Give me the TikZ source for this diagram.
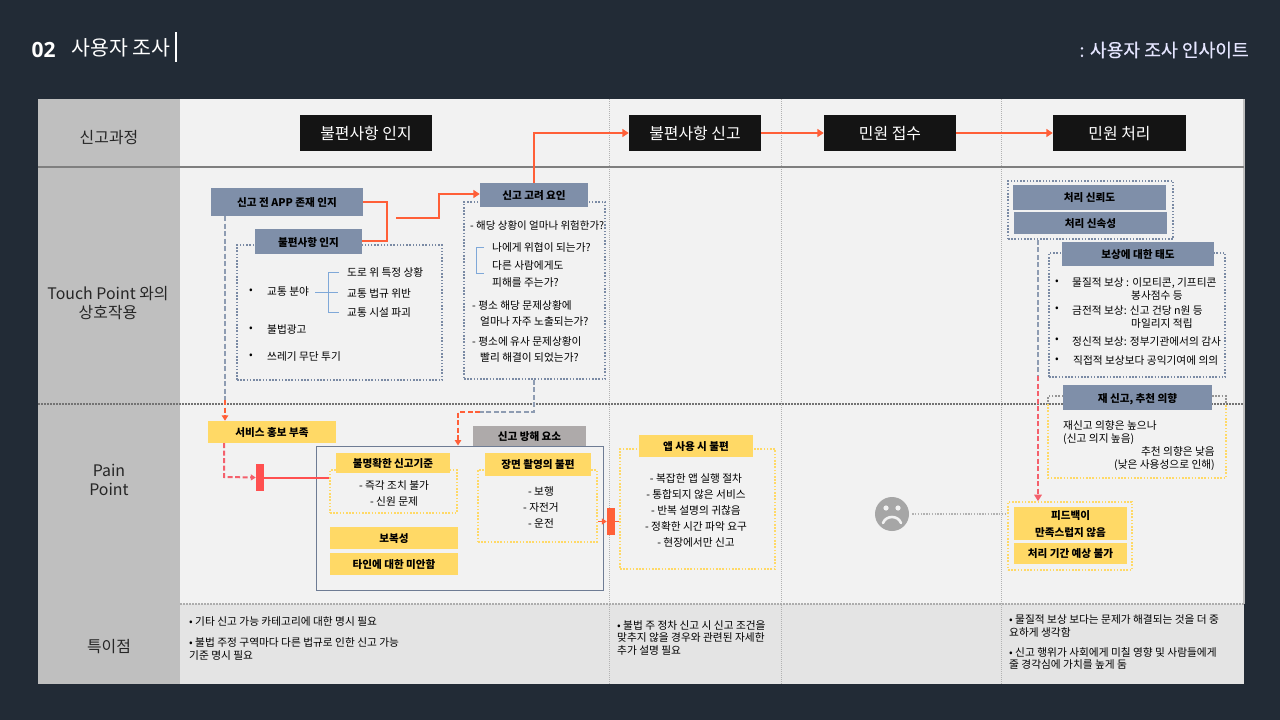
\documentclass[tikz,border=0pt]{standalone}
\usepackage{fontspec}
\usetikzlibrary{arrows.meta,calc}
\setmainfont{Noto Sans CJK KR}
\newfontfamily\latinb{Open Sans}
\newfontfamily\semib[FakeBold=0.4]{Noto Sans CJK KR}
\definecolor{bgdark}{HTML}{222B36}
\definecolor{panel}{HTML}{F2F2F2}
\definecolor{sidegray}{HTML}{BFBFBF}
\definecolor{notegray}{HTML}{E4E4E4}
\definecolor{linegray}{HTML}{7F7F7F}
\definecolor{steel}{HTML}{7F8FA9}
\definecolor{dotsteel}{HTML}{7A8AA4}
\definecolor{sunny}{HTML}{FFD966}
\definecolor{hot}{HTML}{FF5F38}
\definecolor{pinkred}{HTML}{F4606C}
\definecolor{rosered}{HTML}{FF5050}
\definecolor{blocker}{HTML}{AEAAAA}
\definecolor{brace}{HTML}{7FA8D8}
\definecolor{face}{HTML}{A6A6A6}
\tikzset{
  body/.style={font=\fontsize{10.7}{13.5}\selectfont,text=black,inner sep=0pt,align=center,text depth=0pt},
  bodyleft/.style={font=\fontsize{10.7}{13.5}\selectfont,text=black,inner sep=0pt,align=left,anchor=west,text depth=0pt},
  rowlabel/.style={font=\fontsize{15.9}{19}\selectfont,text=black!85,inner sep=0pt,align=center},
  stage/.style={fill=black!92,text=white,font=\fontsize{15.9}{18}\selectfont,inner sep=0pt,text depth=0pt},
  steelbox/.style={fill=steel,text=black,font=\bfseries\fontsize{10.6}{13}\selectfont,inner sep=0pt,text depth=0pt},
  sunbox/.style={fill=sunny,text=black,font=\bfseries\fontsize{10.6}{13.5}\selectfont,inner sep=0pt,align=center,text depth=0pt},
  graybox/.style={fill=blocker,text=black,font=\bfseries\fontsize{10.6}{13}\selectfont,inner sep=0pt,text depth=0pt},
  dotsteelbox/.style={draw=dotsteel,line width=1.5pt,dash pattern=on 1.5pt off 1.7pt},
  dotsunbox/.style={draw=sunny,line width=1.6pt,dash pattern=on 1.6pt off 1.6pt},
  flow/.style={draw=hot,line width=2pt,-{Triangle[length=6.5pt,width=8pt]}},
  flowplain/.style={draw=hot,line width=2pt},
  dashsteel/.style={draw=dotsteel!85,line width=2pt,dash pattern=on 5pt off 2.5pt},
  dashhot/.style={draw=hot,line width=2pt,dash pattern=on 5pt off 2.5pt},
  dashpink/.style={draw=pinkred,line width=2pt,dash pattern=on 5pt off 2.5pt},
  gridv/.style={draw=black!30,line width=.6pt,dash pattern=on 1pt off 1pt},
  gridh/.style={draw=black!55,line width=1.4pt,dash pattern=on 1.5pt off 1.5pt},
  note/.style={font=\fontsize{10.7}{12.8}\selectfont,text=black,inner sep=0pt,align=left,anchor=north west},
}
% \bx{name}{x0}{y0}{x1}{y1}{style}{text}
\newcommand{\bx}[7]{\path (#2,#3) -- node[#6,minimum width=#4pt-#2pt,minimum height=#5pt-#3pt] (#1) {#7} (#4,#5);}
\begin{document}
\begin{tikzpicture}[x=1pt,y=-1pt]
\useasboundingbox (0,0) rectangle (1280,720);
\fill[bgdark] (0,0) rectangle (1280,720);
% panel
\fill[panel] (38,99) rectangle (1244,684);
\fill[notegray] (180,604) rectangle (1244,684);
\fill[sidegray] (38,99) rectangle (180,684);
\fill[sidegray] (1243,99) rectangle (1244.5,604);
\foreach \xx in {609,781,1001} \draw[gridv] (\xx,99) -- (\xx,684);
\draw[linegray,line width=2pt] (38,167) -- (1244,167);
\draw[gridh] (38,404) -- (1244,404);
\draw[gridh,draw=black!32,line width=2pt] (180,604) -- (1244,604);
% header
\node[font=\fontsize{21}{24}\selectfont\latinb\bfseries,text=white,inner sep=0pt,anchor=center] (num) at (43.5,50) {02};
\node[font=\fontsize{20.5}{24}\selectfont,text=white,inner sep=0pt,anchor=west] (ttl) at (71.5,48) {사용자 조사};
\draw[white,line width=1.5pt] (176,32) -- (176,62);
\node[font=\semib\fontsize{18.2}{22}\selectfont,text=white!90!blue,inner sep=0pt,anchor=east] (ttr) at (1249,50) {: 사용자 조사 인사이트};
% row labels
\node[rowlabel] (r1) at (109,137.5) {신고과정};
\node[rowlabel] (r2) at (108,303) {Touch Point 와의\\상호작용};
\node[rowlabel] (r3) at (109,480) {Pain\\Point};
\node[rowlabel] (r4) at (109,647) {특이점};
% stages
\bx{s1}{300}{115}{432}{151}{stage}{불편사항 인지}
\bx{s2}{629}{115}{761}{151}{stage}{불편사항 신고}
\bx{s3}{824}{115}{956}{151}{stage}{민원 접수}
\bx{s4}{1053}{115}{1186}{151}{stage}{민원 처리}
% dotted frames (under their title boxes)
\bx{f1}{237}{245}{442}{380}{dotsteelbox}{}
\bx{f2}{464}{202}{605}{379}{dotsteelbox}{}
\bx{f3}{1008}{181}{1173}{239}{dotsteelbox}{}
\bx{f4}{1049}{253}{1225}{377}{dotsteelbox}{}
\bx{f6}{330}{470}{457}{513}{dotsunbox}{}
\bx{f7}{478}{470}{597}{542}{dotsunbox}{}
\bx{f8}{620}{449}{775}{569}{dotsunbox}{}
\bx{f9}{1008}{502}{1132}{570}{dotsunbox}{}
% frame split in two colours
\draw[dotsteelbox,draw=black!42] (1063,396) -- (1048,396) -- (1048,404);
\draw[dotsteelbox,draw=black!42] (1212,396) -- (1226,396) -- (1226,404);
\draw[dotsunbox] (1048,404) -- (1048,478) -- (1226,478) -- (1226,404);
% big box
\bx{big}{316}{446}{603}{590}{draw=dotsteel!90!black,line width=1pt}{}
% title boxes
\bx{a1}{211}{188}{363}{216}{steelbox}{신고 전 APP 존재 인지}
\bx{a2}{255}{229}{362}{254}{steelbox}{불편사항 인지}
\bx{a3}{480}{183}{588}{207}{steelbox}{신고 고려 요인}
\bx{a4}{1013}{185}{1166}{210}{steelbox}{처리 신뢰도}
\bx{a5}{1014}{212}{1167}{234}{steelbox}{처리 신속성}
\bx{a6}{1062}{242}{1214}{266}{steelbox}{보상에 대한 태도}
\bx{a7}{1063}{385}{1212}{410}{steelbox}{재 신고, 추천 의향}
\bx{b1}{208}{421}{336}{443}{sunbox}{서비스 홍보 부족}
\bx{b2}{473}{426}{586}{446}{graybox}{신고 방해 요소}
\bx{b3}{336}{453}{450}{473}{sunbox}{불명확한 신고기준}
\bx{b4}{485}{453}{591}{476}{sunbox}{장면 촬영의 불편}
\bx{b5}{330}{527}{458}{549}{sunbox}{보복성}
\bx{b6}{330}{553}{458}{575}{sunbox}{타인에 대한 미안함}
\bx{b7}{639}{435}{753}{457}{sunbox}{앱 사용 시 불편}
\bx{b8}{1014}{507}{1127}{540}{sunbox,font=\bfseries\fontsize{10.6}{16.5}\selectfont}{피드백이\\만족스럽지 않음}
\bx{b9}{1014}{543}{1127}{564}{sunbox}{처리 기간 예상 불가}
% bars
\bx{bar1}{256}{464}{264}{491}{fill=rosered}{}
\bx{bar2}{607}{508}{615}{535}{fill=hot}{}
% stage flow
\draw[flow] (a3.north) -- (534,133) -- (s2.west);
\draw[flow] (s2.east) -- (s3.west);
\draw[flow] (s3.east) -- (s4.west);
% awareness join
\coordinate (j0) at (396,218);
\coordinate (j1) at (439,218);
\draw[flowplain] (a1.east) -- (387,202) -- (387,241) -- (a2.east |- 0,241);
\draw[flow] (j0) -- (j1) -- (439,194) -- (a3.west |- 0,194);
% dashed routes
\coordinate (m1) at (225,400);
\draw[dashsteel] (a1.south -| m1) -- (m1);
\draw[dashhot,-{Triangle[length=5.5pt,width=6.5pt]}] (m1) -- (b1.north -| m1);
\coordinate (m2) at (224,477);
\draw[dashpink,-{Triangle[length=5pt,width=6pt]}] (b1.south -| m2) -- (m2) -- (bar1.west);
\draw[rosered,line width=2pt] (bar1.east) -- (f6.west |- bar1.east);
\coordinate (m3) at (534,412);
\coordinate (m4) at (458,412);
\draw[dashsteel] (f2.south -| m3) -- (m3) -- (480,412);
\draw[dashhot,-{Triangle[length=5.5pt,width=6.5pt]}] (480,412) -- (m4) -- (big.north -| m4);
\draw[hot,line width=1.7pt,-{Triangle[length=5pt,width=6pt]}] (f7.east |- bar2.west) -- (bar2.west);
\draw[hot,line width=1.7pt] (bar2.east) -- (f8.west |- bar2.east);
\coordinate (m5) at (1038,376);
\draw[dashsteel] (f3.south -| m5) -- (m5);
\draw[dashpink,-{Triangle[length=6.5pt,width=7.5pt]}] (m5) -- (m5 |- f9.north);
% face
\node[circle,fill=face,minimum size=34pt,inner sep=0pt] (sad) at (892,514) {};
\fill[panel] (886,508) circle (2.6pt) (898,508) circle (2.6pt);
\draw[panel,line width=2.6pt,line cap=round] (883,523) .. controls (886,515) and (898,515) .. (901,523);
\draw[draw=black!30,line width=1.2pt,dash pattern=on 1.3pt off 1.5pt] (sad.east) ++(3,0) -- (f9.west |- sad.east);
% f1 contents
\node[body] (t1) at (251,291) {•};
\node[bodyleft] (t2) at (267,291) {교통 분야};
\node[bodyleft] (t3) at (347,272) {도로 위 특정 상황};
\node[bodyleft] (t4) at (347,293) {교통 법규 위반};
\node[bodyleft] (t5) at (347,312) {교통 시설 파괴};
\draw[brace,line width=1pt] (t2.east |- 0,292) ++(6,0) -- (338,292);
\draw[brace,line width=1pt] (339,272) -- (328,272) -- (328,312) -- (339,312);
\node[body] (t6) at (251,329) {•};
\node[bodyleft] (t7) at (267,329) {불법광고};
\node[body] (t8) at (251,356) {•};
\node[bodyleft] (t9) at (267,356) {쓰레기 무단 투기};
% f2 contents
\node[bodyleft,font=\fontsize{10.5}{13}\selectfont] (u1) at (470,225) {- 해당 상황이 얼마나 위험한가?};
\node[bodyleft] (u2) at (492,247) {나에게 위협이 되는가?};
\node[bodyleft] (u3) at (492,265) {다른 사람에게도};
\node[bodyleft] (u4) at (492,282) {피해를 주는가?};
\draw[brace,line width=1pt] (484,247) -- (476.5,247) -- (476.5,273) -- (484,273);
\node[bodyleft] (u5) at (472,305) {- 평소 해당 문제상황에};
\node[bodyleft] (u6) at (480,321) {얼마나 자주 노출되는가?};
\node[bodyleft] (u7) at (472,341) {- 평소에 유사 문제상황이};
\node[bodyleft] (u8) at (480,357) {빨리 해결이 되었는가?};
% pain texts
\node[body] (v1) at (394,485) {- 즉각 조치 불가};
\node[body] (v2) at (394,501) {- 신원 문제};
\node[body] (v3) at (541,491) {- 보행};
\node[body] (v4) at (541,507) {- 자전거};
\node[body] (v5) at (541,523) {- 운전};
\node[body] (w1) at (696,478) {- 복잡한 앱 실행 절차};
\node[body] (w2) at (696,494) {- 통합되지 않은 서비스};
\node[body] (w3) at (696,510) {- 반복 설명의 귀찮음};
\node[body] (w4) at (696,526) {- 정확한 시간 파악 요구};
\node[body] (w5) at (696,542) {- 현장에서만 신고};
% f4 contents
\node[body] (x0) at (1057,282) {•};
\node[bodyleft] (x1) at (1072,282) {물질적 보상 : 이모티콘, 기프티콘};
\node[bodyleft] (x2) at (1131,295) {봉사점수 등};
\node[body] (x3) at (1057,309) {•};
\node[bodyleft] (x4) at (1072,310) {금전적 보상: 신고 건당 n원 등};
\node[bodyleft] (x5) at (1131,323) {마일리지 적립};
\node[body] (x6) at (1057,340) {•};
\node[bodyleft] (x7) at (1072,341) {정신적 보상: 정부기관에서의 감사};
\node[body] (x8) at (1057,360) {•};
\node[bodyleft] (x9) at (1073,360) {직접적 보상보다 공익기여에 의의};
% f5 contents
\node[bodyleft] (y1) at (1063,425) {재신고 의향은 높으나};
\node[bodyleft] (y2) at (1063,438) {(신고 의지 높음)};
\node[body,anchor=east] (y3) at (1215,451) {추천 의향은 낮음};
\node[body,anchor=east] (y4) at (1215,464) {(낮은 사용성으로 인해)};
% notes
\node[note] (n1) at (189,616) {• 기타 신고 가능 카테고리에 대한 명시 필요};
\node[note] (n2) at (189,637.5) {• 불법 주정 구역마다 다른 법규로 인한 신고 가능\\기준 명시 필요};
\node[note] (n3) at (617,620) {• 불법 주 정차 신고 시 신고 조건을\\맞추지 않을 경우와 관련된 자세한\\추가 설명 필요};
\node[note] (n4) at (1009,614.5) {• 물질적 보상 보다는 문제가 해결되는 것을 더 중\\요하게 생각함};
\node[note] (n5) at (1009,647) {• 신고 행위가 사회에게 미칠 영향 및 사람들에게\\줄 경각심에 가치를 높게 둠};
\end{tikzpicture}
\end{document}
